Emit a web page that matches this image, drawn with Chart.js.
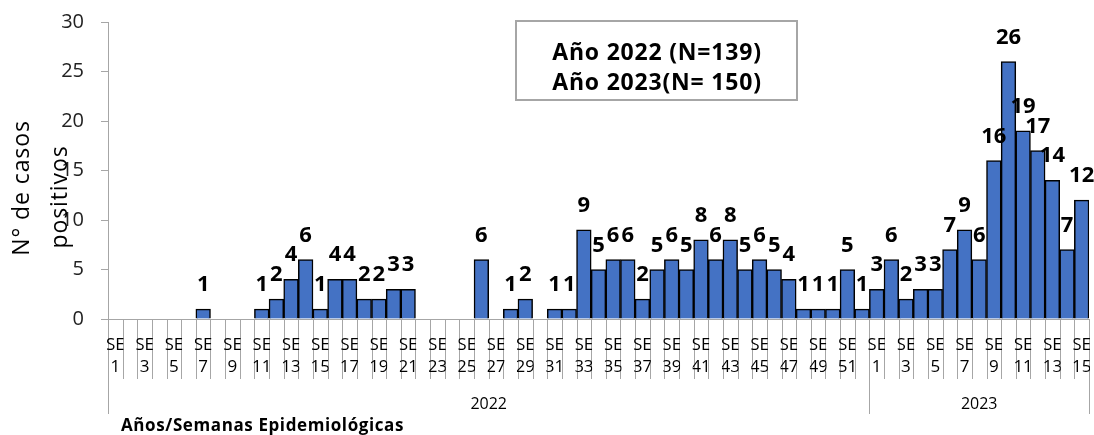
<!DOCTYPE html>
<html><head><meta charset="utf-8">
<script src="https://cdn.jsdelivr.net/npm/chart.js@4/dist/chart.umd.min.js"></script>
<style>html,body{margin:0;padding:0;background:#fff;}#wrap{width:1094px;height:435px;}</style>
</head><body><div id="wrap"><canvas id="c" width="1094" height="435"></canvas></div>
<script>
const years = ['2022', '2023'];
const weeks2022 = [1,2,3,4,5,6,7,8,9,10,11,12,13,14,15,16,17,18,19,20,21,22,23,24,25,26,27,28,29,30,31,32,33,34,35,36,37,38,39,40,41,42,43,44,45,46,47,48,49,50,51,52];
const weeks2023 = [1,2,3,4,5,6,7,8,9,10,11,12,13,14,15];
const cases2022 = [0,0,0,0,0,0,1,0,0,0,1,2,4,6,1,4,4,2,2,3,3,0,0,0,0,6,0,1,2,0,1,1,9,5,6,6,2,5,6,5,8,6,8,5,6,5,4,1,1,1,5,1];
const cases2023 = [3,6,2,3,3,7,9,6,16,26,19,17,14,7,12];
const yTicks = [0,5,10,15,20,25,30];
const boxLines = ['Año 2022 (N=139)', 'Año 2023(N= 150)'];
const yTitleLines = ['N° de casos', 'positivos'];
const xTitle = 'Años/Semanas Epidemiológicas';

const labels = weeks2022.map(w => 'SE ' + w).concat(weeks2023.map(w => 'SE ' + w));
const weekNums = weeks2022.concat(weeks2023);
const values = cases2022.concat(cases2023);
const groups = [{name: years[0], count: weeks2022.length}, {name: years[1], count: weeks2023.length}];

const overlay = {
  id: 'overlay',
  afterDatasetsDraw(chart) {
    const ctx = chart.ctx, xs = chart.scales.x, area = chart.chartArea;
    const n = labels.length;
    const step = (area.right - area.left) / n;
    const y0 = area.bottom;
    ctx.save();
    // data labels
    const meta = chart.getDatasetMeta(0);
    ctx.fillStyle = '#000';
    ctx.font = 'bold 22px "Open Sans"';
    ctx.textAlign = 'center';
    ctx.textBaseline = 'alphabetic';
    meta.data.forEach((bar, i) => {
      if (values[i] > 0) ctx.fillText(String(values[i]), bar.x, bar.y - 18);
    });
    // category separators
    ctx.strokeStyle = '#a6a6a6';
    ctx.lineWidth = 1;
    ctx.beginPath();
    for (let i = 0; i <= n; i++) {
      const px = Math.round(xs.getPixelForValue(0) - step / 2 + i * step) + 0.5;
      ctx.moveTo(px, y0);
      ctx.lineTo(px, y0 + 60);
    }
    // group separators
    let acc = 0;
    const bounds = [0];
    groups.forEach(g => { acc += g.count; bounds.push(acc); });
    bounds.forEach(b => {
      const px = Math.round(xs.getPixelForValue(0) - step / 2 + b * step) + 0.5;
      ctx.moveTo(px, y0);
      ctx.lineTo(px, y0 + 95);
    });
    ctx.stroke();
    // SE labels
    ctx.fillStyle = '#000';
    ctx.font = '17px "Open Sans"';
    for (let i = 0; i < n; i += 2) {
      const cx = xs.getPixelForValue(i);
      ctx.save();
      ctx.beginPath();
      ctx.rect(cx - step / 2 - 1, y0 + 5, step + 2, 60);
      ctx.clip();
      ctx.fillText('SE', cx, y0 + 31);
      ctx.fillText(String(weekNums[i]), cx, y0 + 53);
      ctx.restore();
    }
    // year labels
    ctx.font = '16px "Open Sans"';
    groups.forEach((g, k) => {
      const a = xs.getPixelForValue(0) - step / 2 + bounds[k] * step;
      const b = xs.getPixelForValue(0) - step / 2 + bounds[k + 1] * step;
      ctx.fillText(g.name, (a + b) / 2, y0 + 90);
    });
    // x title
    ctx.font = 'bold 17px "Open Sans"';
    ctx.textAlign = 'left';
    try { ctx.letterSpacing = '0.6px'; } catch (e) {}
    ctx.fillText(xTitle, 121, 431);
    // y title
    ctx.font = '23px "Open Sans"';
    ctx.textAlign = 'center';
    try { ctx.letterSpacing = '0.9px'; } catch (e) {}
    ctx.save();
    ctx.translate(29, 188);
    ctx.rotate(-Math.PI / 2);
    ctx.fillText(yTitleLines[0], 0, 0);
    ctx.restore();
    ctx.save();
    ctx.translate(67, 197);
    ctx.rotate(-Math.PI / 2);
    ctx.fillText(yTitleLines[1], 0, 0);
    ctx.restore();
    // box
    ctx.strokeStyle = '#a6a6a6';
    ctx.lineWidth = 2;
    ctx.strokeRect(516, 21, 281, 79);
    ctx.font = 'bold 23px "Open Sans"';
    try { ctx.letterSpacing = '0.8px'; } catch (e) {}
    ctx.fillText(boxLines[0], 657, 60);
    ctx.fillText(boxLines[1], 657, 90);
    ctx.restore();
  }
};

new Chart(document.getElementById('c'), {
  type: 'bar',
  data: {
    labels: labels,
    datasets: [{
      data: values,
      backgroundColor: '#4472C4',
      borderColor: '#000',
      borderWidth: 1.5,
      barPercentage: 1,
      categoryPercentage: 1
    }]
  },
  options: {
    responsive: false,
    animation: false,
    layout: {padding: {top: 22, right: 5, left: 0, bottom: 0}},
    plugins: {legend: {display: false}, tooltip: {enabled: false}},
    scales: {
      x: {
        ticks: {display: false},
        grid: {display: false},
        border: {display: true, color: '#a6a6a6'},
        afterFit(s) { s.height = 116; s.paddingLeft = 0; s.paddingRight = 0; }
      },
      y: {
        min: 0, max: 30,
        afterBuildTicks(s) { s.ticks = yTicks.map(v => ({value: v})); },
        ticks: {font: {family: 'Open Sans', size: 20}, color: '#222', padding: 17},
        grid: {display: true, drawOnChartArea: false, drawTicks: true, tickLength: 7, color: '#a6a6a6'},
        border: {color: '#a6a6a6'},
        afterFit(s) { s.width = 108; s.paddingTop = 0; s.paddingBottom = 0; }
      }
    }
  },
  plugins: [overlay]
});
</script>
</body></html>
